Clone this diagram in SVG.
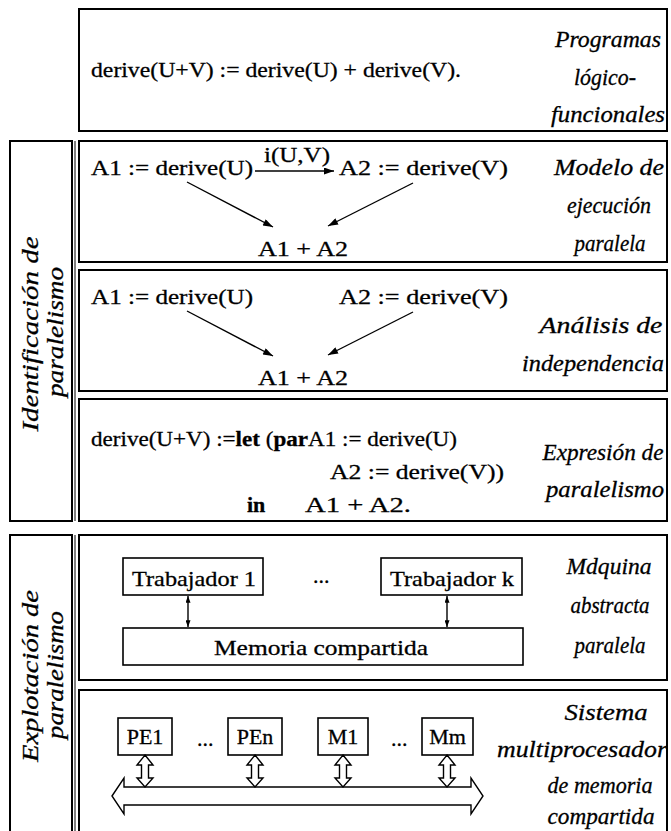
<svg xmlns="http://www.w3.org/2000/svg" width="671" height="831" viewBox="0 0 671 831">
<defs>
<style>
.frame{fill:none;stroke:#000;stroke-width:2}
.thin{fill:none;stroke:#000;stroke-width:1}
.box{fill:#fff;stroke:#000;stroke-width:1.6}
.t{font-family:"Liberation Serif","Times New Roman",serif;font-size:22px;fill:#000;stroke:#000;stroke-width:0.3}
.lbl{font-family:"Liberation Serif","Times New Roman",serif;font-size:23px;font-style:italic;fill:#000;stroke:#000;stroke-width:0.3;text-anchor:middle}
.side{font-family:"Liberation Serif","Times New Roman",serif;font-size:24px;font-style:italic;fill:#000;stroke:#000;stroke-width:0.3;text-anchor:middle}
.mid{text-anchor:middle}
.b{font-weight:bold}
.ln{stroke:#000;stroke-width:1.4;fill:none}
.hollow{fill:#fff;stroke:#000;stroke-width:1.4;stroke-linejoin:miter}
</style>
<marker id="ah" viewBox="0 0 10 7" refX="10" refY="3.5" markerWidth="11" markerHeight="7" markerUnits="userSpaceOnUse" orient="auto-start-reverse"><path d="M0,0 L10,3.5 L0,7 z" fill="#000"/></marker>
<marker id="ahs" viewBox="0 0 8 6" refX="8" refY="3" markerWidth="7" markerHeight="5" markerUnits="userSpaceOnUse" orient="auto-start-reverse"><path d="M0,0 L8,3 L0,6 z" fill="#000"/></marker>
</defs>
<rect width="671" height="831" fill="#fff"/>

<!-- side labels -->
<g id="identificacion">
<rect class="frame" x="10" y="141" width="62" height="380"/>
<line class="thin" x1="75" y1="141" x2="75" y2="521"/>
<text class="side" transform="translate(38,334) rotate(-90)" textLength="195" lengthAdjust="spacingAndGlyphs">Identificación de</text>
<text class="side" transform="translate(63,332) rotate(-90)" textLength="130" lengthAdjust="spacingAndGlyphs">paralelismo</text>
</g>
<g id="explotacion">
<rect class="frame" x="10" y="535" width="62" height="310"/>
<line class="thin" x1="75" y1="535" x2="75" y2="831"/>
<text class="side" transform="translate(38,676) rotate(-90)" textLength="172" lengthAdjust="spacingAndGlyphs">Explotación de</text>
<text class="side" transform="translate(63,675) rotate(-90)" textLength="128" lengthAdjust="spacingAndGlyphs">paralelismo</text>
</g>

<!-- panel 1 -->
<g id="programas">
<rect class="frame" x="79" y="9" width="588" height="122"/>
<text class="t" x="91" y="77" textLength="370" lengthAdjust="spacingAndGlyphs">derive(U+V) := derive(U) + derive(V).</text>
<text class="lbl" x="608" y="47" textLength="106" lengthAdjust="spacingAndGlyphs">Programas</text>
<text class="lbl" x="605" y="85" textLength="62" lengthAdjust="spacingAndGlyphs">lógico-</text>
<text class="lbl" x="608" y="122" textLength="114" lengthAdjust="spacingAndGlyphs">funcionales</text>
</g>

<!-- panel 2 -->
<g id="modelo">
<rect class="frame" x="79" y="141" width="588" height="121"/>
<text class="t" x="91" y="175" textLength="162" lengthAdjust="spacingAndGlyphs">A1 := derive(U)</text>
<text class="t" x="264" y="162" textLength="66" lengthAdjust="spacingAndGlyphs">i(U,V)</text>
<text class="t" x="339" y="175" textLength="169" lengthAdjust="spacingAndGlyphs">A2 := derive(V)</text>
<text class="t" x="258" y="256" textLength="90" lengthAdjust="spacingAndGlyphs">A1 + A2</text>
<text class="lbl" x="609" y="175" textLength="110" lengthAdjust="spacingAndGlyphs">Modelo de</text>
<text class="lbl" x="609" y="213" textLength="84" lengthAdjust="spacingAndGlyphs">ejecución</text>
<text class="lbl" x="610" y="251" textLength="71" lengthAdjust="spacingAndGlyphs">paralela</text>
</g>

<!-- panel 3 -->
<g id="analisis">
<rect class="frame" x="79" y="270" width="588" height="121"/>
<text class="t" x="91" y="304" textLength="162" lengthAdjust="spacingAndGlyphs">A1 := derive(U)</text>
<text class="t" x="339" y="304" textLength="169" lengthAdjust="spacingAndGlyphs">A2 := derive(V)</text>
<text class="t" x="258" y="385" textLength="90" lengthAdjust="spacingAndGlyphs">A1 + A2</text>
<text class="lbl" x="601" y="333" textLength="123" lengthAdjust="spacingAndGlyphs">Análisis de</text>
<text class="lbl" x="593" y="371" textLength="142" lengthAdjust="spacingAndGlyphs">independencia</text>
</g>

<!-- panel 4 -->
<g id="expresion">
<rect class="frame" x="79" y="399" width="588" height="122"/>
<text class="t" x="91" y="446" textLength="366" lengthAdjust="spacingAndGlyphs">derive(U+V) :=<tspan class="b">let</tspan> (<tspan class="b">par</tspan>A1 := derive(U)</text>
<text class="t" x="330" y="479" textLength="174" lengthAdjust="spacingAndGlyphs">A2 := derive(V))</text>
<text class="t b" x="247" y="512">in</text>
<text class="t" x="305" y="512" textLength="106" lengthAdjust="spacingAndGlyphs">A1 + A2.</text>
<text class="lbl" x="603" y="460" textLength="121" lengthAdjust="spacingAndGlyphs">Expresión de</text>
<text class="lbl" x="605" y="497" textLength="118" lengthAdjust="spacingAndGlyphs">paralelismo</text>
</g>

<!-- panel 5 -->
<g id="maquina">
<rect class="frame" x="79" y="535" width="588" height="145"/>
<text class="lbl" x="609" y="574" textLength="85" lengthAdjust="spacingAndGlyphs">Mdquina</text>
<text class="lbl" x="610" y="613" textLength="79" lengthAdjust="spacingAndGlyphs">abstracta</text>
<text class="lbl" x="610" y="653" textLength="71" lengthAdjust="spacingAndGlyphs">paralela</text>
<text class="t" x="313" y="583">...</text>
</g>
<g id="trabajador1">
<rect class="box" x="123" y="558" width="140" height="37"/>
<text class="t" x="132" y="586" textLength="124" lengthAdjust="spacingAndGlyphs">Trabajador 1</text>
</g>
<g id="trabajadork">
<rect class="box" x="381" y="558" width="141" height="37"/>
<text class="t" x="390" y="586" textLength="124" lengthAdjust="spacingAndGlyphs">Trabajador k</text>
</g>
<g id="memoria">
<rect class="box" x="123" y="628" width="400" height="37"/>
<text class="t" x="214" y="655" textLength="214" lengthAdjust="spacingAndGlyphs">Memoria compartida</text>
</g>

<!-- panel 6 -->
<g id="sistema">
<rect class="frame" x="79" y="690" width="588" height="160"/>
<text class="lbl" x="606" y="720" textLength="83" lengthAdjust="spacingAndGlyphs">Sistema</text>
<text class="lbl" x="582" y="757" textLength="170" lengthAdjust="spacingAndGlyphs">multiprocesador</text>
<text class="lbl" x="600" y="793" textLength="105" lengthAdjust="spacingAndGlyphs">de memoria</text>
<text class="lbl" x="601" y="824" textLength="107" lengthAdjust="spacingAndGlyphs">compartida</text>
<text class="t" x="197" y="746">...</text>
<text class="t" x="391" y="746">...</text>
</g>
<g id="pe1"><rect class="box" x="118" y="718" width="54" height="37"/><text class="t mid" x="145" y="744">PE1</text></g>
<g id="pen"><rect class="box" x="228" y="718" width="54" height="37"/><text class="t mid" x="255" y="744">PEn</text></g>
<g id="m1"><rect class="box" x="318" y="718" width="50" height="37"/><text class="t mid" x="343" y="744">M1</text></g>
<g id="mm"><rect class="box" x="422" y="718" width="51" height="37"/><text class="t mid" x="447.5" y="744">Mm</text></g>
<g id="bus">
<polygon class="hollow" points="112,796 124,778 124,787 471,787 471,778 483,796 471,814 471,805 124,805 124,814"/>
</g>

<!-- connectors -->
<g id="connectors">
<line class="ln" x1="255" y1="171" x2="334" y2="171" marker-end="url(#ah)"/>
<line class="ln" x1="187" y1="182" x2="273" y2="227" marker-end="url(#ah)"/>
<line class="ln" x1="413" y1="183" x2="328" y2="226" marker-end="url(#ah)"/>
<line class="ln" x1="187" y1="311" x2="273" y2="356" marker-end="url(#ah)"/>
<line class="ln" x1="413" y1="312" x2="328" y2="355" marker-end="url(#ah)"/>
<line class="ln" x1="188" y1="596" x2="188" y2="627" marker-start="url(#ahs)" marker-end="url(#ahs)"/>
<line class="ln" x1="447" y1="596" x2="447" y2="627" marker-start="url(#ahs)" marker-end="url(#ahs)"/>
<polygon class="hollow" points="145,755 153,765 148.5,765 148.5,778 153,778 145,787 137,778 141.5,778 141.5,765 137,765"/>
<polygon class="hollow" points="255,755 263,765 258.5,765 258.5,778 263,778 255,787 247,778 251.5,778 251.5,765 247,765"/>
<polygon class="hollow" points="343,755 351,765 346.5,765 346.5,778 351,778 343,787 335,778 339.5,778 339.5,765 335,765"/>
<polygon class="hollow" points="447,755 455,765 450.5,765 450.5,778 455,778 447,787 439,778 443.5,778 443.5,765 439,765"/>
</g>
</svg>
